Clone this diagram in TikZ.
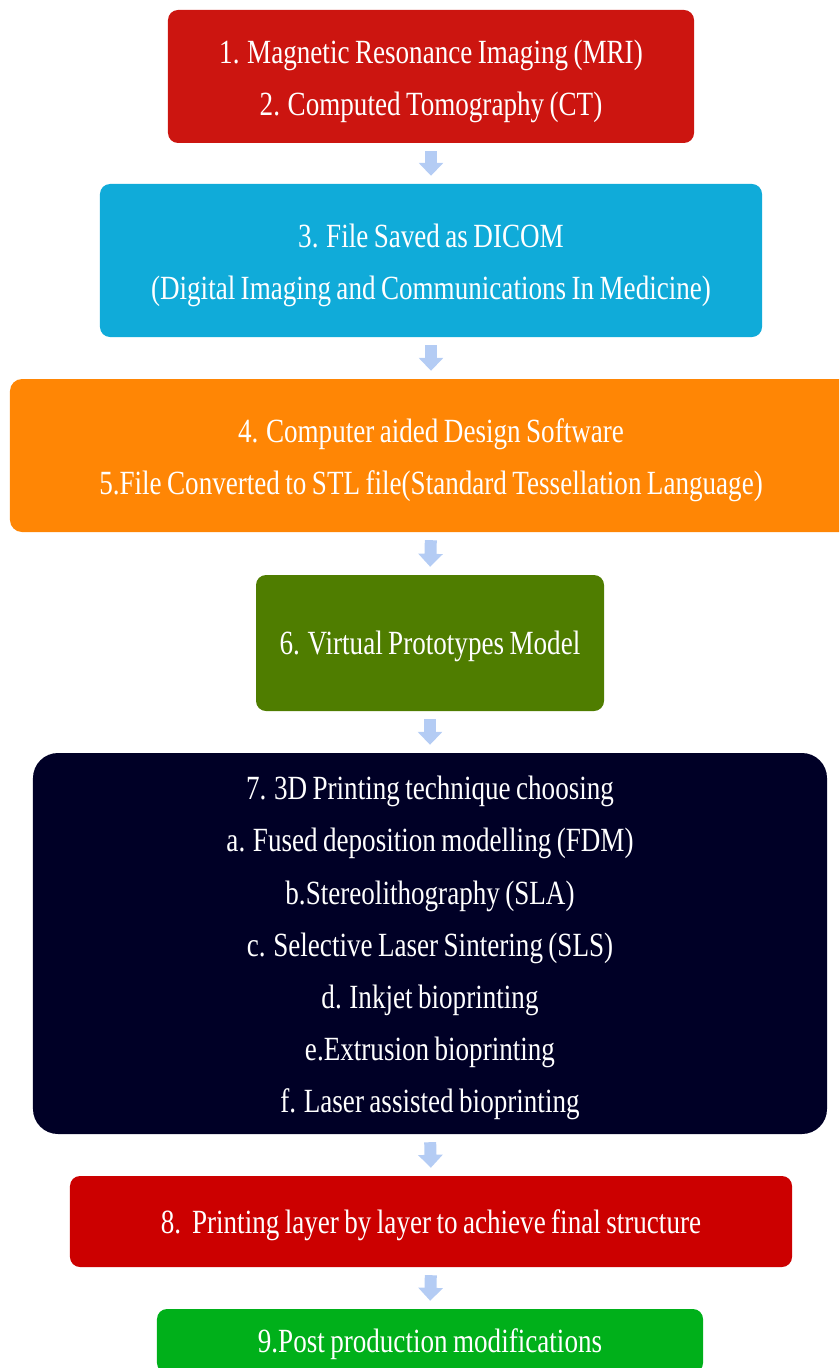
\documentclass[tikz,border=0pt]{standalone}
\usepackage{fontspec}
\setmainfont{Liberation Serif}[FakeStretch=0.8,WordSpace=0.8]
\usetikzlibrary{arrows.meta}
\definecolor{scanred}{HTML}{CC1510}
\definecolor{dicomblue}{HTML}{10ABD9}
\definecolor{cadorange}{HTML}{FF8605}
\definecolor{modelgreen}{HTML}{4F7D00}
\definecolor{technavy}{HTML}{000026}
\definecolor{printred}{HTML}{CC0000}
\definecolor{postgreen}{HTML}{00B01A}
\definecolor{arrowblue}{HTML}{B4CCF4}
% a tall strut on the first line lowers each text block a little
\newcommand{\leadstrut}{\rule{0pt}{31bp}}
\newcommand{\multistrut}{\rule{0pt}{33bp}}
\tikzset{
  stagebox/.style={rectangle, rounded corners=10bp, inner sep=0pt, align=center,
    text=white, font=\fontsize{34}{52.4}\selectfont,
    execute at begin node=\leadstrut},
  flowarrow/.style={draw=arrowblue, line width=12bp,
    -{Triangle[width=24bp,length=13bp]}, shorten <=8bp, shorten >=8bp}
}
\begin{document}
\begin{tikzpicture}[x=1bp,y=-1bp]
\useasboundingbox (0,0) rectangle (839,1368);
\clip (0,0) rectangle (839,1368);

\node[stagebox, fill=scanred, minimum width=526bp, minimum height=133bp] (b1) at (431,76.5)
  {\multistrut 1. Magnetic Resonance Imaging (MRI)\\2. Computed Tomography (CT)};
\node[stagebox, fill=dicomblue, minimum width=662bp, minimum height=153bp] (b2) at (431,260.5)
  {\multistrut 3. File Saved as DICOM\\(Digital Imaging and Communications In Medicine)};
\node[stagebox, fill=cadorange, rounded corners=12bp, minimum width=842bp, minimum height=153bp] (b3) at (431,455.5)
  {\multistrut 4. Computer aided Design Software\\5.File Converted to STL file(Standard Tessellation Language)};
\node[stagebox, fill=modelgreen, minimum width=348bp, minimum height=136bp] (b4) at (430,643)
  {6. Virtual Prototypes Model};
\node[stagebox, fill=technavy, rounded corners=25bp, minimum width=794bp, minimum height=381bp] (b5) at (430,943.5)
  {\multistrut 7. 3D Printing technique choosing\\a. Fused deposition modelling (FDM)\\b.Stereolithography (SLA)\\c. Selective Laser Sintering (SLS)\\d. Inkjet bioprinting\\e.Extrusion bioprinting\\f. Laser assisted bioprinting};
\node[stagebox, fill=printred, minimum width=722bp, minimum height=91bp] (b6) at (431,1221.5)
  {8.\ \ Printing layer by layer to achieve final structure};
\node[stagebox, fill=postgreen, minimum width=546bp, minimum height=64bp] (b7) at (430,1341)
  {9.Post production modifications};

\draw[flowarrow] (b1.south) -- (b2.north);
\draw[flowarrow] (b2.south) -- (b3.north);
\draw[flowarrow] (b3.south) -- (b4.north);
\draw[flowarrow] (b4.south) -- (b5.north);
\draw[flowarrow] (b5.south) -- (b6.north);
\draw[flowarrow] (b6.south) -- (b7.north);
\end{tikzpicture}
\end{document}
